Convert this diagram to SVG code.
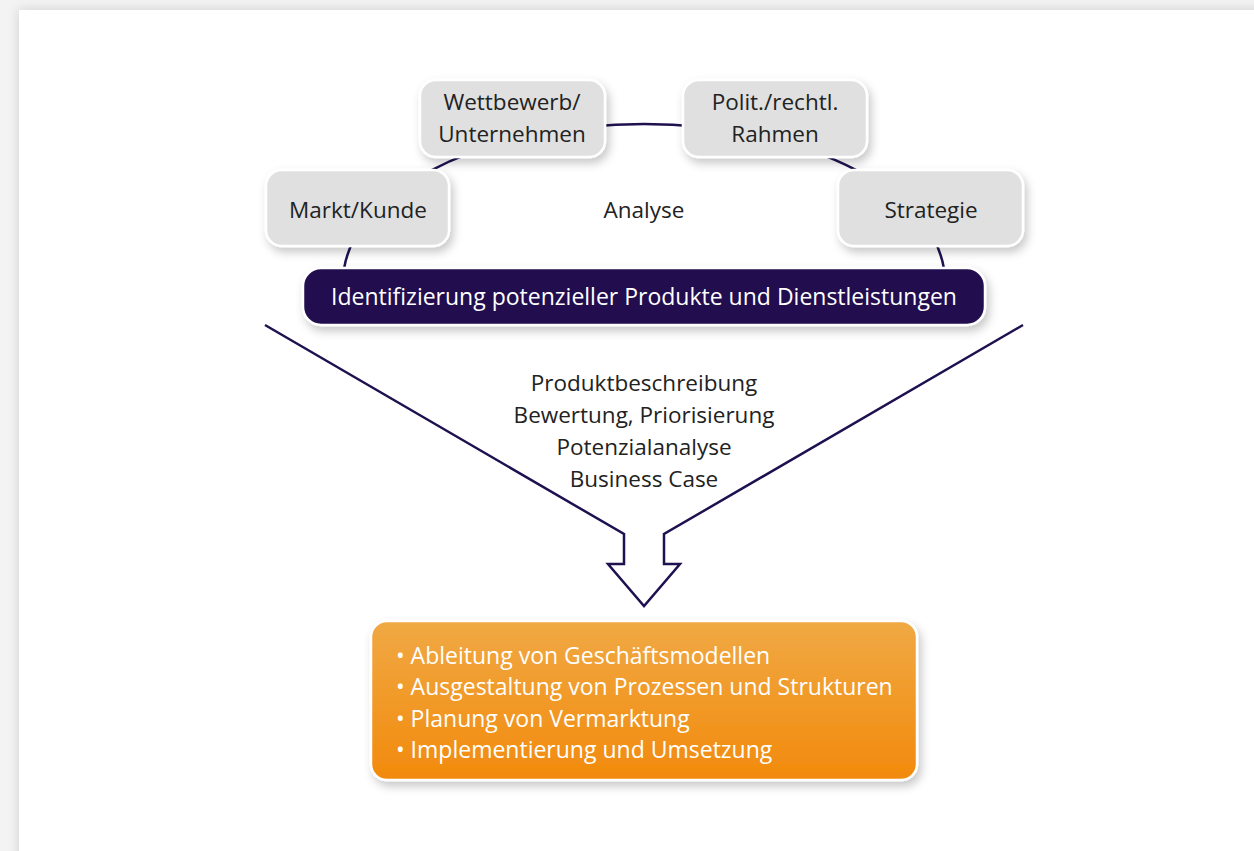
<svg xmlns="http://www.w3.org/2000/svg" width="1254" height="851" viewBox="0 0 1254 851">
  <style>
    .lbl { font-family: "Open Sans", "Noto Sans", "DejaVu Sans", sans-serif; font-size: 22.5px; fill: #222222; text-anchor: middle; }
    .wht { font-family: "Open Sans", "Noto Sans", "DejaVu Sans", sans-serif; font-size: 23px; fill: #ffffff; }
    .box { fill: #dfe0df; stroke: #ffffff; stroke-width: 2.5; filter: url(#shadow); }
    .conn { fill: none; stroke: #1f1150; stroke-width: 2.5; }
  </style>
  <defs>
    <filter id="shadow" x="-20%" y="-30%" width="140%" height="170%">
      <feDropShadow dx="3" dy="5" stdDeviation="5" flood-color="#000000" flood-opacity="0.22"/>
    </filter>
    <filter id="pageShadow" x="-5%" y="-5%" width="110%" height="110%">
      <feDropShadow dx="0" dy="0" stdDeviation="6" flood-color="#000000" flood-opacity="0.15"/>
    </filter>
    <linearGradient id="orange" x1="0" y1="0" x2="0" y2="1">
      <stop offset="0" stop-color="#f0a944"/>
      <stop offset="1" stop-color="#f28a0c"/>
    </linearGradient>
  </defs>

  <!-- page -->
  <rect x="0" y="0" width="1254" height="851" fill="#f3f3f3"/>
  <rect x="19" y="10" width="1260" height="860" fill="#ffffff" filter="url(#pageShadow)"/>

  <!-- connectors -->
  <g id="connectors">
    <!-- analysis ring (upper half of an ellipse) -->
    <path class="conn" d="M 343 282 A 301 158 0 0 1 945 282"/>
    <!-- funnel arrow -->
    <path class="conn" stroke-linejoin="miter" d="M 265 325 L 624 534 L 624 564 L 608 564 L 644 606 L 680 564 L 664 564 L 664 534 L 1023 325"/>
  </g>

  <g id="node-markt">
    <rect class="box" x="266" y="170" width="183" height="76" rx="16"/>
    <text class="lbl" x="358" y="218">Markt/Kunde</text>
  </g>
  <g id="node-wettbewerb">
    <rect class="box" x="420" y="80" width="185" height="77" rx="16"/>
    <text class="lbl" x="512" y="110">Wettbewerb/</text>
    <text class="lbl" x="512" y="142">Unternehmen</text>
  </g>
  <g id="node-polit">
    <rect class="box" x="683" y="80" width="184" height="77" rx="16"/>
    <text class="lbl" x="775" y="110">Polit./rechtl.</text>
    <text class="lbl" x="775" y="142">Rahmen</text>
  </g>
  <g id="node-strategie">
    <rect class="box" x="838" y="170" width="185" height="76" rx="16"/>
    <text class="lbl" x="931" y="218">Strategie</text>
  </g>
  <g id="label-analyse">
    <text class="lbl" x="644" y="218">Analyse</text>
  </g>

  <g id="node-identifizierung">
    <rect x="303" y="268" width="682" height="57" rx="18" fill="#201050" stroke="#ffffff" stroke-width="2.5" filter="url(#shadow)"/>
    <text class="wht" x="644" y="305" text-anchor="middle" font-size="23">Identifizierung potenzieller Produkte und Dienstleistungen</text>
  </g>

  <g id="label-funnel">
    <text class="lbl" x="644" y="391">Produktbeschreibung</text>
    <text class="lbl" x="644" y="423">Bewertung, Priorisierung</text>
    <text class="lbl" x="644" y="455">Potenzialanalyse</text>
    <text class="lbl" x="644" y="487">Business Case</text>
  </g>

  <g id="node-umsetzung">
    <rect x="371" y="621" width="546" height="159" rx="16" fill="url(#orange)" stroke="#ffffff" stroke-width="2.5" filter="url(#shadow)"/>
    <text class="wht" x="396" y="664" font-size="24">• Ableitung von Geschäftsmodellen</text>
    <text class="wht" x="396" y="695" font-size="24">• Ausgestaltung von Prozessen und Strukturen</text>
    <text class="wht" x="396" y="727" font-size="24">• Planung von Vermarktung</text>
    <text class="wht" x="396" y="758" font-size="24">• Implementierung und Umsetzung</text>
  </g>
</svg>
